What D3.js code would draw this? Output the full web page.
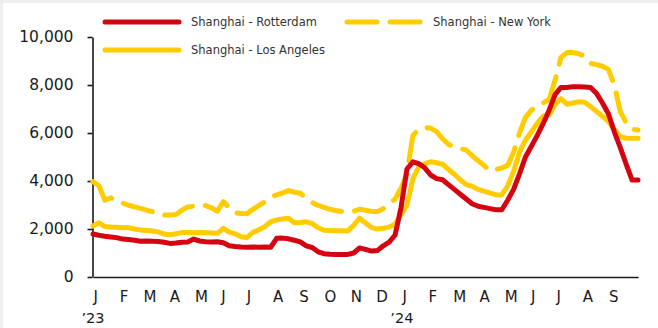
<!DOCTYPE html>
<html>
<head>
<meta charset="utf-8">
<script src="https://cdn.jsdelivr.net/npm/d3@7"></script>
<style>
  html, body { margin: 0; padding: 0; background: #efefef; }
  svg { display: block; }
</style>
</head>
<body>
<svg id="chart" width="658" height="328"></svg>
<script>
// Weekly container freight rates, USD per 40ft container
const firstWeek = new Date(2023, 0, 1);
const weekCount = 93;

const seriesNames = ["Shanghai - Rotterdam", "Shanghai - Los Angeles", "Shanghai - New York"];

const rotterdam = [
  1790, 1740, 1700, 1670, 1640, 1580, 1560, 1530, 1490, 1500,
  1490, 1480, 1450, 1400, 1420, 1450, 1460, 1580, 1500, 1470,
  1460, 1470, 1430, 1300, 1270, 1250, 1240, 1250, 1240, 1250,
  1240, 1610, 1620, 1590, 1530, 1460, 1300, 1230, 1050, 970,
  950, 940, 940, 940, 1000, 1210, 1150, 1080, 1100, 1300,
  1450, 1750, 2900, 4500, 4800, 4720, 4550, 4250, 4100, 4050,
  3850, 3650, 3450, 3250, 3050, 2950, 2900, 2850, 2800, 2800,
  3200, 3650, 4300, 5000, 5450, 5900, 6400, 6950, 7600, 7900,
  7900, 7930, 7930, 7920, 7900, 7650, 7250, 6800, 6050, 5400,
  4700, 4040, 4040
];

const losAngeles = [
  2125, 2260, 2100, 2080, 2070, 2050, 2060, 2000, 1960, 1940,
  1920, 1880, 1790, 1760, 1800, 1850, 1850, 1840, 1850, 1840,
  1830, 1820, 2030, 1870, 1800, 1680, 1650, 1860, 1970, 2100,
  2300, 2380, 2420, 2450, 2260, 2270, 2300, 2230, 2050, 1950,
  1940, 1930, 1930, 1920, 2150, 2450, 2250, 2060, 2000, 2030,
  2080, 2200, 2600, 3000, 4100, 4600, 4720, 4800, 4760, 4700,
  4480, 4280, 4050, 3850, 3780, 3650, 3580, 3500, 3430, 3420,
  3800, 4400, 5200, 5700, 6050, 6400, 6700, 6750, 7200, 7430,
  7200, 7250, 7300, 7280, 7100, 6900, 6700, 6480, 6150, 5850,
  5780, 5780, 5780
];

const newYork = [
  3970, 3800, 3200, 3300, 3180, 3080, 2990, 2920, 2860, 2790,
  2720, 2640, 2580, 2580, 2600, 2780, 2920, 2950, 2980, 2980,
  2880, 2740, 3140, 2900, 2670, 2650, 2640, 2820, 2980, 3130,
  3340, 3420, 3500, 3600, 3530, 3490, 3280, 3100, 2980, 2900,
  2820, 2770, 2730, 2720, 2740, 2820, 2780, 2740, 2720, 2850,
  3050, 3250, 3700, 4300, 5900, 6150, 6230, 6200, 6060, 5760,
  5530, 5400, 5350, 5290, 5050, 4850, 4650, 4420, 4480, 4540,
  4650, 5200, 6000, 6650, 6950, 7130, 7250, 7400, 8200, 9150,
  9350, 9350, 9300, 9200, 8900, 8850, 8780, 8650, 8000, 6900,
  6420, 6150, 6125
];

const yTicks = [0, 2000, 4000, 6000, 8000, 10000];
const monthLabels = ["J","F","M","A","M","J","J","A","S","O","N","D",
                     "J","F","M","A","M","J","J","A","S"];
const yearLabels = ["\u201923", "\u201924"];

const RED = "#d40511";
const YELLOW = "#ffcc00";
const FONT = "'DejaVu Sans', sans-serif";

const weeks = d3.range(weekCount).map(i => d3.timeWeek.offset(firstWeek, i));
const months = d3.timeMonth.range(new Date(2023, 0, 1), new Date(2024, 9, 1));
const years = [new Date(2023, 0, 1), new Date(2024, 0, 1)];

const svg = d3.select("#chart");

// panel
svg.append("rect").attr("x", 3).attr("y", 3).attr("width", 660).attr("height", 330).attr("fill", "#ffffff");

const x = d3.scaleTime().domain([weeks[0], weeks[weeks.length - 1]]).range([93, 638]);
const y = d3.scaleLinear().domain([0, 10000]).range([277, 37]);

// y axis
const yAxis = svg.append("g")
  .attr("transform", "translate(92.5,0)")
  .call(d3.axisLeft(y).tickValues(yTicks).tickSize(5).tickSizeOuter(0).tickPadding(14)
        .tickFormat(d3.format(",")));
yAxis.select(".domain").attr("stroke", "#1a1a1a").attr("stroke-width", 1.6);
yAxis.selectAll(".tick line").attr("stroke", "#1a1a1a").attr("stroke-width", 1.6);
yAxis.selectAll(".tick text").attr("font-family", FONT).attr("font-size", 15.5).attr("fill", "#1a1a1a");

// x axis
const xAxis = svg.append("g")
  .attr("transform", "translate(0,277)")
  .call(d3.axisBottom(x).tickValues(months).tickSize(0).tickSizeOuter(0).tickPadding(14)
        .tickFormat((d, i) => monthLabels[i]));
xAxis.select(".domain").attr("stroke", "#1a1a1a").attr("stroke-width", 1.6);
xAxis.selectAll(".tick text")
  .attr("font-family", FONT).attr("font-size", 15).attr("fill", "#1a1a1a")
  .attr("text-anchor", "start");

svg.append("g").selectAll("text").data(years).join("text")
  .attr("x", d => x(d)).attr("y", 323)
  .attr("text-anchor", "middle")
  .attr("font-family", FONT).attr("font-size", 14.5).attr("fill", "#1a1a1a")
  .text((d, i) => yearLabels[i]);

// series
const line = d3.line().x((d, i) => x(weeks[i])).y(d => y(d));

const series = [
  { name: seriesNames[2], values: newYork, color: YELLOW, dash: "30,13" },
  { name: seriesNames[1], values: losAngeles, color: YELLOW, dash: null },
  { name: seriesNames[0], values: rotterdam, color: RED, dash: null }
];

svg.append("g").selectAll("path").data(series).join("path")
  .attr("d", d => line(d.values))
  .attr("fill", "none")
  .attr("stroke", d => d.color)
  .attr("stroke-width", 5)
  .attr("stroke-linejoin", "round")
  .attr("stroke-linecap", "round")
  .attr("stroke-dasharray", d => d.dash);

// legend
const legend = [
  { name: seriesNames[0], color: RED, dash: null, lx: 105, ly: 22 },
  { name: seriesNames[1], color: YELLOW, dash: null, lx: 105, ly: 50 },
  { name: seriesNames[2], color: YELLOW, dash: "30,13", lx: 347, ly: 22 }
];
const lg = svg.append("g").selectAll("g").data(legend).join("g")
  .attr("transform", d => `translate(${d.lx},${d.ly})`);
lg.append("line")
  .attr("x1", 0).attr("x2", 74).attr("y1", 0).attr("y2", 0)
  .attr("stroke", d => d.color).attr("stroke-width", 5)
  .attr("stroke-linecap", "round")
  .attr("stroke-dasharray", d => d.dash);
lg.append("text")
  .attr("x", 86).attr("y", 0).attr("dy", "0.35em")
  .attr("font-family", FONT).attr("font-size", 11.5).attr("fill", "#333333")
  .text(d => d.name);
</script>
</body>
</html>
